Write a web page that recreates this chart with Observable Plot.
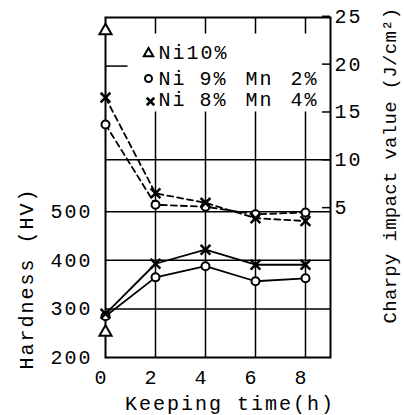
<!DOCTYPE html>
<html>
<head>
<meta charset="utf-8">
<script src="https://cdn.jsdelivr.net/npm/d3@7"></script>
<script src="https://cdn.jsdelivr.net/npm/@observablehq/plot@0.6"></script>
<style>
  html, body { margin: 0; padding: 0; background: #fff; }
  svg text { white-space: pre; }
</style>
</head>
<body>
<div id="chart"></div>
<script>
// ---- data ----
const times = [0, 2, 4, 6, 8];
const timeNi10 = [0];
const hardnessNi10 = [252];
const hardnessNi9Mn2 = [285, 365, 388, 357, 363];
const hardnessNi8Mn4 = [290, 393, 422, 391, 391];
const charpyNi10 = [23.5];
const charpyNi9Mn2 = [13.7, 5.3, 5.1, 4.3, 4.5];
const charpyNi8Mn4 = [16.5, 6.5, 5.5, 3.9, 3.6];

const timeTicks = [0, 2, 4, 6, 8];
const hardnessTicks = [200, 300, 400, 500];
const charpyTicks = [5, 10, 15, 20, 25];

const legendNi10 = ["Ni", "10%"];
const legendNi9Mn2 = ["Ni", "9%", "Mn", "2%"];
const legendNi8Mn4 = ["Ni", "8%", "Mn", "4%"];

const xLabel = "Keeping time(h)";
const yLabelLeft = "Hardness (HV)";
const yLabelRight = "Charpy impact value (J/cm²)";

// Charpy (J/cm²) shares the hardness (HV) y scale through this axis mapping
const charpyToY = c => 410 + 19.7 * c;
const yToCharpy = h => (h - 410) / 19.7;

const rows = (xs, ys, series) => ys.map((v, i) => ({t: xs[i], v, series}));
const hard = [
  ...rows(times, hardnessNi9Mn2, "Ni9Mn2"),
  ...rows(times, hardnessNi8Mn4, "Ni8Mn4")
];
const hard10 = rows(timeNi10, hardnessNi10, "Ni10");
const charpy = [
  ...rows(times, charpyNi9Mn2.map(charpyToY), "Ni9Mn2"),
  ...rows(times, charpyNi8Mn4.map(charpyToY), "Ni8Mn4")
];
const charpy10 = rows(timeNi10, charpyNi10.map(charpyToY), "Ni10");

const fontFamily = "'Liberation Mono', 'DejaVu Sans Mono', monospace";

const legendTokens = (tokens, dxs, dy) =>
  tokens.map((t, i) => Plot.text([t], {frameAnchor: "top-left", dx: dxs[i], dy, textAnchor: "start", lineAnchor: "middle", fontSize: 20, fill: "black"}));

const tokenDx2 = [53, 81];
const tokenDx4 = [53, 94, 140, 185];

const plot = Plot.plot({
  width: 404,
  height: 415,
  marginLeft: 105,
  marginRight: 74,
  marginTop: 17,
  marginBottom: 58,
  x: {domain: [0, 9]},
  y: {domain: [200, 900]},
  style: {fontFamily, fontSize: "20px", color: "black", background: "white", letterSpacing: "2px"},
  marks: [
    // grid
    Plot.ruleX(timeTicks.slice(1), {y1: 200, y2: charpyToY(15), stroke: "black", strokeWidth: 1.5}),
    Plot.ruleX(timeTicks.slice(1), {y1: 900, y2: 866, stroke: "black", strokeWidth: 1.5}),
    Plot.ruleY([300, 400, 500, charpyToY(10)], {x1: 0, x2: 9, stroke: "black", strokeWidth: 1.5}),
    Plot.ruleY(charpyTicks.map(charpyToY), {x1: 8.68, x2: 9, stroke: "black", strokeWidth: 1.5}),
    Plot.ruleY([800], {x1: 0, x2: 0.9, stroke: "black", strokeWidth: 1.5}),
    Plot.frame({stroke: "black", strokeWidth: 2}),
    // axes
    Plot.axisY(hardnessTicks, {anchor: "left", tickSize: 0, tickPadding: 13, label: null, fontSize: 20}),
    Plot.axisY(charpyTicks.map(charpyToY), {anchor: "right", tickSize: 0, tickPadding: 4, label: null, fontSize: 20,
      tickFormat: h => String(Math.round(yToCharpy(h)))}),
    Plot.axisX(timeTicks, {anchor: "bottom", tickSize: 0, tickPadding: 12, dx: -4, label: null, fontSize: 20}),
    Plot.text([xLabel], {frameAnchor: "bottom", lineAnchor: "middle", textAnchor: "middle", dx: 12, dy: 46, fontSize: 20}),
    Plot.text([yLabelLeft], {frameAnchor: "left", lineAnchor: "middle", textAnchor: "middle", rotate: -90, dx: -79, dy: 91, fontSize: 20}),
    Plot.text([yLabelRight], {frameAnchor: "right", lineAnchor: "middle", textAnchor: "middle", rotate: -90, dx: 59, dy: -22, fontSize: 19}),
    // hardness (solid)
    Plot.line(hard, {x: "t", y: "v", z: "series", stroke: "black", strokeWidth: 1.8}),
    // charpy (dashed)
    Plot.line(charpy, {x: "t", y: "v", z: "series", stroke: "black", strokeWidth: 1.8, strokeDasharray: "6,4"}),
    // markers
    Plot.dot([...hard, ...charpy].filter(d => d.series === "Ni9Mn2"), {x: "t", y: "v", symbol: "circle", r: 4, stroke: "black", strokeWidth: 2, fill: "white"}),
    Plot.dot([...hard, ...charpy].filter(d => d.series === "Ni8Mn4"), {x: "t", y: "v", symbol: "times", r: 4.5, stroke: "black", strokeWidth: 2.5}),
    Plot.dot([...hard10, ...charpy10], {x: "t", y: "v", symbol: "triangle", r: 4.5, stroke: "black", strokeWidth: 2, fill: "white"}),
    // legend
    Plot.dot([0], {frameAnchor: "top-left", dx: 43, dy: 36, symbol: "triangle", r: 3.5, stroke: "black", strokeWidth: 2, fill: "white"}),
    Plot.dot([0], {frameAnchor: "top-left", dx: 43, dy: 61, symbol: "circle", r: 3.5, stroke: "black", strokeWidth: 2, fill: "white"}),
    Plot.dot([0], {frameAnchor: "top-left", dx: 45, dy: 84, symbol: "times", r: 3.5, stroke: "black", strokeWidth: 2.5}),
    ...legendTokens(legendNi10, tokenDx2, 35),
    ...legendTokens(legendNi9Mn2, tokenDx4, 61),
    ...legendTokens(legendNi8Mn4, tokenDx4, 82)
  ]
});
// tighter letter spacing for the long right-hand axis title
d3.select(plot).selectAll("text").filter(function () { return this.textContent === yLabelRight; })
  .style("letter-spacing", "0.3px");
document.getElementById("chart").appendChild(plot);
</script>
</body>
</html>
